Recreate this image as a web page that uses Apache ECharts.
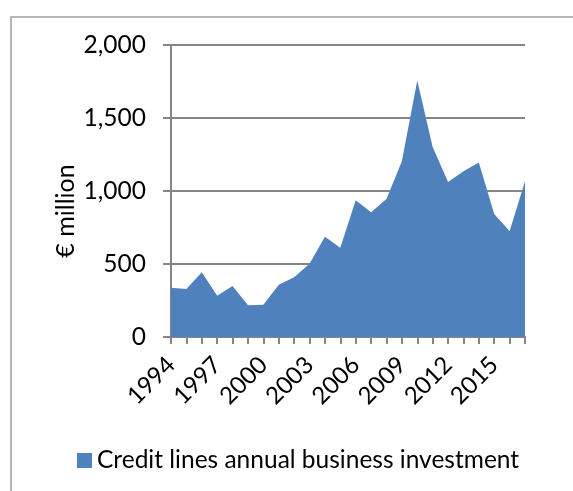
<!DOCTYPE html>
<html>
<head>
<meta charset="utf-8">
<script src="https://cdn.jsdelivr.net/npm/echarts@6/dist/echarts.min.js"></script>
<style>
  html, body { margin: 0; padding: 0; background: #fff; }
  #chart { width: 573px; height: 491px; }
</style>
</head>
<body>
<div id="chart"></div>
<script>
// Annual credit-line business investment, € million
const years = ['1994','1995','1996','1997','1998','1999','2000','2001','2002','2003','2004','2005',
               '2006','2007','2008','2009','2010','2011','2012','2013','2014','2015','2016','2017'];
const investment = [338, 329, 443, 283, 349, 217, 221, 358, 409, 502, 687, 612,
                    936, 854, 945, 1203, 1756, 1301, 1062, 1135, 1196, 842, 724, 1066];
const seriesName = 'Credit lines annual business investment';
const yAxisTitle = '€ million';

const axisGray = '#868686';
const font = 'Lato, "Liberation Sans", sans-serif';

const chart = echarts.init(document.getElementById('chart'), null, { renderer: 'canvas' });
chart.setOption({
  backgroundColor: '#fff',
  animation: false,
  textStyle: { fontFamily: font },
  graphic: [{
    // outer frame of the chart area
    type: 'rect',
    shape: { x: 11, y: 17, width: 700, height: 600 },
    style: { fill: 'none', stroke: '#a0a0a0', lineWidth: 1.5 },
    z: -1
  }, {
    // vertical axis title
    type: 'text',
    x: 66,
    y: 211,
    rotation: Math.PI / 2,
    style: {
      text: yAxisTitle,
      font: '25px ' + font,
      fill: '#000',
      align: 'center',
      verticalAlign: 'middle'
    }
  }],
  grid: { left: 171, right: 48, top: 45, bottom: 154 },
  legend: {
    data: [seriesName],
    left: 72,
    top: 443,
    itemWidth: 15,
    itemHeight: 15,
    itemGap: 7,
    icon: 'rect',
    textStyle: { fontFamily: font, fontSize: 24.5, color: '#000' }
  },
  xAxis: {
    type: 'category',
    data: years,
    boundaryGap: false,
    axisLine: { lineStyle: { color: axisGray, width: 2 } },
    axisTick: { show: true, length: 7, interval: 0, lineStyle: { color: axisGray, width: 2 } },
    axisLabel: {
      interval: 2,
      rotate: 45,
      fontSize: 24,
      color: '#000',
      margin: 24,
      fontFamily: font
    },
    splitLine: { show: false }
  },
  yAxis: {
    type: 'value',
    min: 0,
    max: 2000,
    interval: 500,
    axisLine: { show: true, lineStyle: { color: axisGray, width: 2 } },
    axisTick: { show: true, length: 8, lineStyle: { color: axisGray, width: 2 } },
    axisLabel: {
      fontSize: 24.5,
      color: '#000',
      margin: 25,
      fontFamily: font,
      formatter: v => v.toLocaleString('en-US')
    },
    splitLine: { show: true, lineStyle: { color: axisGray, width: 2 } }
  },
  series: [{
    name: seriesName,
    type: 'line',
    data: investment,
    symbol: 'none',
    lineStyle: { width: 0 },
    itemStyle: { color: '#4F81BD' },
    areaStyle: { color: '#4F81BD', opacity: 1 },
    z: 3
  }]
});
</script>
</body>
</html>
